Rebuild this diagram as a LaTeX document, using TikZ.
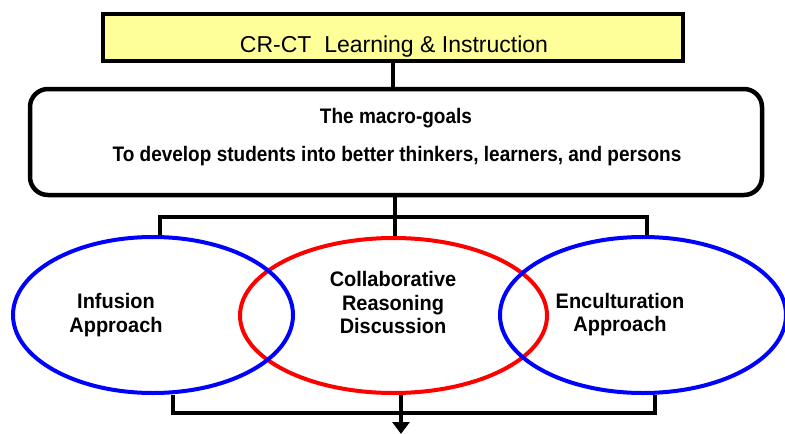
\documentclass[tikz,border=0pt]{standalone}
\usepackage{fontspec}
\setmainfont{Liberation Sans}
\newfontfamily\goalfont[FakeStretch=0.905]{Liberation Sans}
\newfontfamily\ovalfont[FakeStretch=0.95]{Liberation Sans}
\usetikzlibrary{shapes.geometric,arrows.meta}
\definecolor{titleyellow}{RGB}{255,255,153}
\definecolor{ellblue}{RGB}{0,0,255}
\definecolor{ellred}{RGB}{255,0,0}
\begin{document}
\begin{tikzpicture}[x=1pt,y=-1pt,
  conn/.style={line width=4.5pt, draw=black},
  ovalshape/.style={ellipse, draw, line width=4pt, inner sep=0pt, minimum height=156pt},
  lbl/.style={font=\ovalfont\bfseries\fontsize{21}{23.5}\selectfont, align=center, inner sep=0pt},
  goaltext/.style={font=\goalfont\bfseries\fontsize{21}{24}\selectfont, inner sep=0pt, anchor=base},
]
\useasboundingbox (0,0) rectangle (785,434);
% top title
\node[draw, line width=4.5pt, fill=titleyellow, minimum width=580pt, minimum height=47pt, inner sep=0pt] (titlebox) at (393,37.5) {};
\node[font=\fontsize{23}{26}\selectfont, inner sep=0pt, anchor=base] (titletext) at (394,52) {CR-CT\ \ Learning \& Instruction};
% macro goals box
\node[draw, line width=4.5pt, rounded corners=18pt, minimum width=732pt, minimum height=106pt, inner sep=0pt] (macro) at (396,142) {};
\node[goaltext] (goalhead) at (396,123) {The macro-goals};
\node[goaltext] (goalline) at (397,161) {To develop students into better thinkers, learners, and persons};
% ellipses
\node[ovalshape, draw=ellred, minimum width=307pt, minimum height=155pt] (crd) at (393.5,315.5) {};
\node[ovalshape, draw=ellblue, minimum width=280pt] (infusion) at (153,315) {};
\node[ovalshape, draw=ellblue, minimum width=286pt] (encult) at (643,315) {};
% labels
\node[lbl] (inftext) at (116,315) {Infusion\\Approach};
\node[lbl] (crdtext) at (393,302.5) {Collaborative\\Reasoning\\Discussion};
\node[lbl] (enctext) at (620,314.5) {Enculturation\\Approach};
% connectors
\coordinate (split) at (395,217);
\coordinate (tl) at (160,217);
\coordinate (tr) at (647,217);
\coordinate (bl) at (173,413);
\coordinate (br) at (655,413);
\coordinate (arrowend) at (401,434);
\draw[conn] (titlebox.south) -- (titlebox.south |- macro.north);
\draw[conn] (macro.south -| split) -- (crd.north -| split);
\draw[conn] (infusion.north -| tl) -- (tl) -- (tr) -- (encult.north -| tr);
\draw[conn] (infusion.south -| bl) -- (bl) -- (br) -- (encult.south -| br);
\draw[conn, -{Triangle[width=17pt,length=12pt]}] (crd.south -| arrowend) -- (arrowend);
\end{tikzpicture}
\end{document}
